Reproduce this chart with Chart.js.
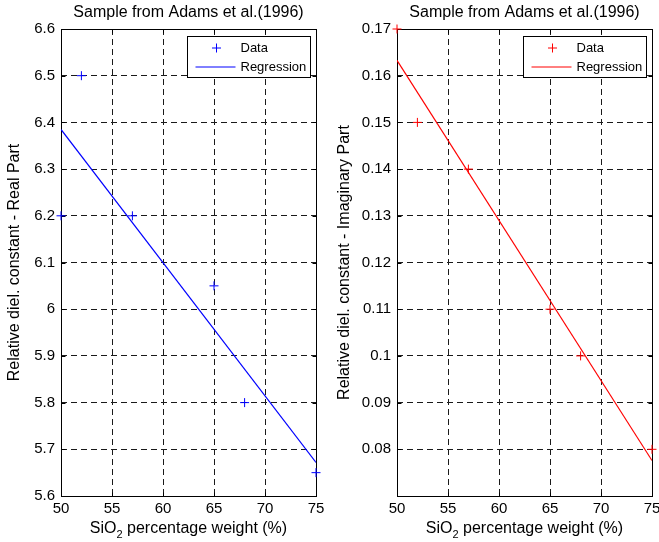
<!DOCTYPE html>
<html>
<head>
<meta charset="utf-8">
<script src="https://cdn.jsdelivr.net/npm/chart.js@4.4.0/dist/chart.umd.min.js"></script>
<style>
  html, body { margin: 0; padding: 0; background: #fff; overflow: hidden; width: 659px; height: 542px; }
  canvas { position: absolute; top: 0; }
  #realChart { left: 0; }
  #imagChart { left: 330px; }
</style>
</head>
<body>
<canvas id="realChart" width="330" height="542"></canvas>
<canvas id="imagChart" width="329" height="542"></canvas>
<script>
// SiO2 content of the samples and their measured dielectric constants
const sio2 = [50, 52, 57, 65, 68, 75];
const realPart = [6.2, 6.5, 6.2, 6.05, 5.8, 5.65];
const imagPart = [0.17, 0.15, 0.14, 0.11, 0.10, 0.08];

// Regression line end points
const fitX = [50, 75];
const realFit = [6.385, 5.672];
const imagFit = [0.1633, 0.0776];

// Axis ticks
const xTicks = [50, 55, 60, 65, 70, 75];
const realTicks = [5.6, 5.7, 5.8, 5.9, 6.0, 6.1, 6.2, 6.3, 6.4, 6.5, 6.6];
const realTickLabels = ['5.6', '5.7', '5.8', '5.9', '6', '6.1', '6.2', '6.3', '6.4', '6.5', '6.6'];
const imagTicks = [0.07, 0.08, 0.09, 0.10, 0.11, 0.12, 0.13, 0.14, 0.15, 0.16, 0.17];
const imagTickLabels = ['', '0.08', '0.09', '0.1', '0.11', '0.12', '0.13', '0.14', '0.15', '0.16', '0.17'];

// Text
const titleText = 'Sample from Adams et al.(1996)';
const xLabelParts = ['SiO', '2', ' percentage weight (%)'];
const realYLabel = 'Relative diel. constant - Real Part';
const imagYLabel = 'Relative diel. constant - Imaginary Part';
const legendLabels = ['Data', 'Regression'];

const FONT = '"Liberation Sans", Arial, Helvetica, sans-serif';

// MATLAB-style axes: closed box, inward ticks, title, subscripted x label, boxed legend
const matlabAxes = {
  id: 'matlabAxes',
  beforeDatasetsDraw(chart) {
    const { ctx, chartArea: a } = chart;
    const xs = chart.scales.x, ys = chart.scales.y;
    const L = Math.round(a.left) + 0.5, R = Math.round(a.right) + 0.5;
    const T = Math.round(a.top) + 0.5, B = Math.round(a.bottom) + 0.5;
    ctx.save();
    ctx.setLineDash([]);
    ctx.strokeStyle = '#000';
    ctx.lineWidth = 1;
    ctx.strokeRect(L, T, R - L, B - T);
    ctx.beginPath();
    xs.ticks.forEach(t => {
      const px = Math.round(xs.getPixelForValue(t.value)) + 0.5;
      ctx.moveTo(px, B); ctx.lineTo(px, B - 4);
      ctx.moveTo(px, T); ctx.lineTo(px, T + 4);
    });
    ys.ticks.forEach(t => {
      const py = Math.round(ys.getPixelForValue(t.value)) + 0.5;
      ctx.moveTo(L, py); ctx.lineTo(L + 4, py);
      ctx.moveTo(R, py); ctx.lineTo(R - 4, py);
    });
    ctx.stroke();
    ctx.restore();
  },
  afterDraw(chart, args, opts) {
    const { ctx, chartArea: a } = chart;
    const cx = (a.left + a.right) / 2;
    ctx.save();
    ctx.fillStyle = '#000';

    // title
    ctx.font = `16px ${FONT}`;
    ctx.textAlign = 'center';
    ctx.textBaseline = 'alphabetic';
    ctx.fillText(opts.title, cx, 17);

    // x label with subscript
    const big = `16px ${FONT}`, small = `11px ${FONT}`;
    ctx.textAlign = 'left';
    ctx.font = big; const w1 = ctx.measureText(opts.xParts[0]).width;
    ctx.font = small; const w2 = ctx.measureText(opts.xParts[1]).width;
    ctx.font = big; const w3 = ctx.measureText(opts.xParts[2]).width;
    let x = cx - (w1 + w2 + w3) / 2;
    ctx.font = big; ctx.fillText(opts.xParts[0], x, 533); x += w1;
    ctx.font = small; ctx.fillText(opts.xParts[1], x, 537.5); x += w2;
    ctx.font = big; ctx.fillText(opts.xParts[2], x, 533);

    // legend
    const ds = chart.data.datasets;
    const bx = Math.round(a.right) - 129 + 0.5, by = Math.round(a.top) + 7 + 0.5;
    ctx.fillStyle = '#fff';
    ctx.fillRect(bx, by, 123, 41);
    ctx.strokeStyle = '#000';
    ctx.lineWidth = 1;
    ctx.strokeRect(bx, by, 123, 41);

    ctx.strokeStyle = ds[0].borderColor;
    ctx.beginPath();
    ctx.moveTo(bx + 24.5, by + 11.5); ctx.lineTo(bx + 33.5, by + 11.5);
    ctx.moveTo(bx + 29, by + 7); ctx.lineTo(bx + 29, by + 16);
    ctx.stroke();

    ctx.strokeStyle = ds[1].borderColor;
    ctx.beginPath();
    ctx.moveTo(bx + 8, by + 30.5); ctx.lineTo(bx + 48, by + 30.5);
    ctx.stroke();

    ctx.fillStyle = '#000';
    ctx.font = `13px ${FONT}`;
    ctx.textBaseline = 'middle';
    ctx.fillText(opts.legend[0], bx + 53, by + 12);
    ctx.fillText(opts.legend[1], bx + 53, by + 31);
    ctx.restore();
  }
};

function makeChart(id, yValues, fitValues, color, yTicks, yTickLabels, yLabel, axisWidth, rightPad) {
  const points = sio2.map((x, i) => ({ x, y: yValues[i] }));
  const fitPoints = fitX.map((x, i) => ({ x, y: fitValues[i] }));
  return new Chart(document.getElementById(id), {
    type: 'scatter',
    data: {
      datasets: [
        {
          label: legendLabels[0],
          data: points,
          pointStyle: 'cross',
          pointRadius: 4.5,
          pointHoverRadius: 4.5,
          borderColor: color,
          backgroundColor: color,
          borderWidth: 1,
          showLine: false,
          clip: false
        },
        {
          type: 'line',
          label: legendLabels[1],
          data: fitPoints,
          borderColor: color,
          backgroundColor: color,
          borderWidth: 1.2,
          pointRadius: 0,
          fill: false,
          tension: 0
        }
      ]
    },
    options: {
      responsive: false,
      animation: false,
      events: [],
      layout: { padding: { top: 29, right: rightPad, bottom: 0, left: 0 } },
      plugins: {
        legend: { display: false },
        tooltip: { enabled: false },
        title: { display: false },
        matlabAxes: { title: titleText, xParts: xLabelParts, legend: legendLabels }
      },
      scales: {
        x: {
          type: 'linear',
          min: xTicks[0],
          max: xTicks[xTicks.length - 1],
          afterBuildTicks: s => { s.ticks = xTicks.map(v => ({ value: v })); },
          afterFit: s => { s.height = 46; s.paddingLeft = 0; s.paddingRight = 0; },
          ticks: {
            autoSkip: false, maxRotation: 0, padding: 4, color: '#000',
            font: { family: FONT, size: 15 },
            callback: (v, i) => String(xTicks[i])
          },
          grid: { color: '#1a1a1a', lineWidth: 1, drawTicks: false },
          border: { display: false, dash: [6, 4] }
        },
        y: {
          type: 'linear',
          min: yTicks[0],
          max: yTicks[yTicks.length - 1],
          afterBuildTicks: s => { s.ticks = yTicks.map(v => ({ value: v })); },
          afterFit: s => { s.width = axisWidth; s.paddingTop = 0; s.paddingBottom = 0; },
          ticks: {
            autoSkip: false, padding: 6, color: '#000',
            font: { family: FONT, size: 15 },
            callback: (v, i) => yTickLabels[i]
          },
          grid: { color: '#1a1a1a', lineWidth: 1, drawTicks: false },
          border: { display: false, dash: [6, 4] },
          title: {
            display: true, text: yLabel, color: '#000',
            font: { family: FONT, size: 16 },
            padding: { top: 5, bottom: 0 }
          }
        }
      }
    },
    plugins: [matlabAxes]
  });
}

makeChart('realChart', realPart, realFit, '#0000ff', realTicks, realTickLabels, realYLabel, 61, 14);
makeChart('imagChart', imagPart, imagFit, '#ff0000', imagTicks, imagTickLabels, imagYLabel, 67, 7);
</script>
</body>
</html>
